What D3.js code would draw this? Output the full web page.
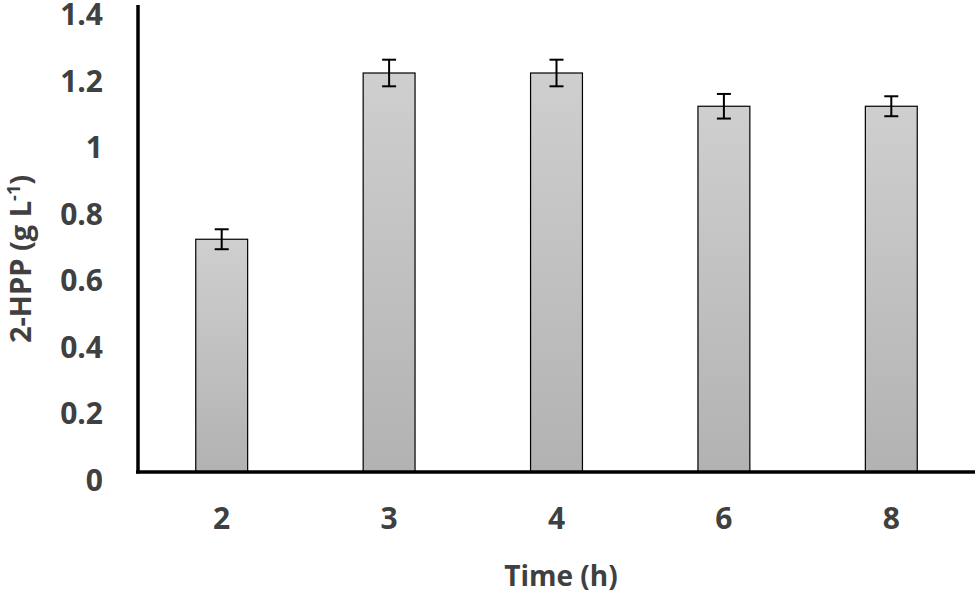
<!DOCTYPE html>
<html><head><meta charset="utf-8">
<script src="https://cdn.jsdelivr.net/npm/d3@7"></script>
<style>body{margin:0;background:#fff}svg{display:block}</style>
</head><body>
<script>
const categories = ["2","3","4","6","8"];
const values = [0.70, 1.20, 1.20, 1.10, 1.10];
const errors = [0.03, 0.04, 0.04, 0.037, 0.03];
const yTicks = [0, 0.2, 0.4, 0.6, 0.8, 1, 1.2, 1.4];

const W = 975, H = 595;
const svg = d3.select("body").append("svg").attr("width", W).attr("height", H);
const font = "'Open Sans', sans-serif";
const textColor = "#404040";

const x = d3.scaleBand().domain(categories).range([138, 975]).paddingInner(0.69).paddingOuter(0.345);
const y = d3.scaleLinear().domain([0, 1.4]).range([472, 6.5]);

const defs = svg.append("defs");
const grad = defs.append("linearGradient").attr("id","g").attr("x1",0).attr("y1",0).attr("x2",0).attr("y2",1);
grad.append("stop").attr("offset","0%").attr("stop-color","#cfcfcf");
grad.append("stop").attr("offset","100%").attr("stop-color","#b2b2b2");

const data = categories.map((c,i)=>({c, v:values[i], e:errors[i]}));

svg.append("g").selectAll("rect").data(data).join("rect")
  .attr("x", d=>x(d.c)).attr("width", x.bandwidth())
  .attr("y", d=>y(d.v)).attr("height", d=>y(0)-y(d.v))
  .attr("fill","url(#g)").attr("stroke","#000").attr("stroke-width",1.2);

// error bars
const eg = svg.append("g").attr("stroke","#000").attr("stroke-width",2);
data.forEach(d=>{
  const cx = x(d.c)+x.bandwidth()/2;
  eg.append("line").attr("x1",cx).attr("x2",cx).attr("y1",y(d.v+d.e)).attr("y2",y(d.v-d.e));
  eg.append("line").attr("x1",cx-7).attr("x2",cx+7).attr("y1",y(d.v+d.e)).attr("y2",y(d.v+d.e));
  eg.append("line").attr("x1",cx-7).attr("x2",cx+7).attr("y1",y(d.v-d.e)).attr("y2",y(d.v-d.e));
});

// axes
const yAxis = d3.axisLeft(y).tickValues(yTicks).tickSize(0).tickPadding(0).tickFormat(d=>String(d));
const gy = svg.append("g").attr("transform","translate(138,0)").call(yAxis);
gy.select(".domain").remove();
gy.selectAll("text").attr("x",-35).attr("dy","0.6em")
  .attr("font-family",font).attr("font-weight","bold").attr("font-size",30).attr("fill",textColor);

const xAxis = d3.axisBottom(x).tickSize(0).tickPadding(0);
const gx = svg.append("g").attr("transform","translate(0,472)").call(xAxis);
gx.select(".domain").remove();
gx.selectAll("text").attr("y",46).attr("dy","0.35em")
  .attr("font-family",font).attr("font-weight","bold").attr("font-size",30).attr("fill",textColor);

svg.append("line").attr("x1",138).attr("x2",138).attr("y1",5).attr("y2",473.5).attr("stroke","#000").attr("stroke-width",3.5);
svg.append("line").attr("x1",136).attr("x2",975).attr("y1",472).attr("y2",472).attr("stroke","#000").attr("stroke-width",3.5);

// titles
svg.append("text").attr("x",561).attr("y",586).attr("text-anchor","middle")
  .attr("font-family",font).attr("font-weight","bold").attr("font-size",28).attr("fill",textColor)
  .text("Time (h)");

const yt = svg.append("text").attr("transform","translate(31,259) rotate(-90)").attr("text-anchor","middle")
  .attr("font-family",font).attr("font-weight","bold").attr("font-size",29).attr("fill",textColor);
yt.append("tspan").text("2-HPP (g L");
yt.append("tspan").attr("font-size",18).attr("dy",-11).text("-1");
yt.append("tspan").attr("dy",11).text(")");
</script>
</body></html>
